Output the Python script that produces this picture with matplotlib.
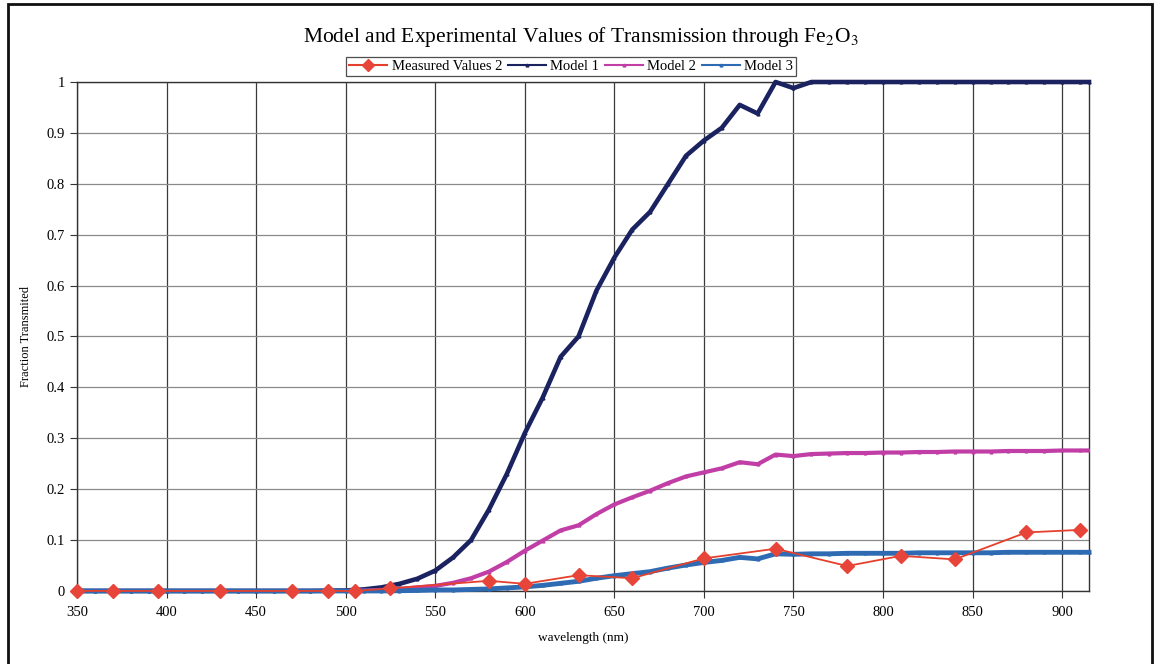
import numpy as np
import matplotlib
matplotlib.use("Agg")
import matplotlib.pyplot as plt
from matplotlib.patches import Rectangle

plt.rcParams['font.family'] = ['Liberation Serif', 'DejaVu Serif']
plt.rcParams['mathtext.fontset'] = 'stix'

# model wavelengths (nm)
wl_model = [350, 360, 370, 380, 390, 400, 410, 420, 430, 440, 450, 460, 470, 480, 490,
            500, 510, 520, 530, 540, 550, 560, 570, 580, 590, 600, 610, 620, 630, 640,
            650, 660, 670, 680, 690, 700, 710, 720, 730, 740, 750, 760, 770, 780, 790,
            800, 810, 820, 830, 840, 850, 860, 870, 880, 890, 900, 910, 915]

model1 = [0, 0, 0, 0, 0, 0, 0, 0, 0, 0, 0, 0, 0, 0, 0.0005,
          0.001, 0.003, 0.007, 0.014, 0.024, 0.04, 0.066, 0.10, 0.16, 0.23, 0.31,
          0.38, 0.46, 0.50, 0.59, 0.655, 0.71, 0.745, 0.80, 0.855, 0.885, 0.91,
          0.955, 0.938, 1.0, 0.988, 1.0, 1.0, 1.0, 1.0, 1.0, 1.0, 1.0, 1.0, 1.0,
          1.0, 1.0, 1.0, 1.0, 1.0, 1.0, 1.0, 1.0]

model2 = [0, 0, 0, 0, 0, 0, 0, 0, 0, 0, 0, 0, 0, 0, 0,
          0, 0.001, 0.002, 0.004, 0.007, 0.010, 0.016, 0.025, 0.038, 0.057, 0.079,
          0.099, 0.119, 0.129, 0.151, 0.170, 0.184, 0.197, 0.212, 0.225, 0.233, 0.241,
          0.253, 0.249, 0.268, 0.265, 0.269, 0.270, 0.271, 0.271, 0.272, 0.272, 0.273,
          0.273, 0.274, 0.274, 0.274, 0.275, 0.275, 0.275, 0.276, 0.276, 0.276]

model3 = [0, 0, 0, 0, 0, 0, 0, 0, 0, 0, 0, 0, 0, 0, 0,
          0, 0, 0, 0.0005, 0.001, 0.002, 0.002, 0.003, 0.004, 0.006, 0.008,
          0.011, 0.015, 0.019, 0.025, 0.030, 0.034, 0.038, 0.045, 0.051, 0.056, 0.060,
          0.066, 0.063, 0.073, 0.072, 0.073, 0.073, 0.074, 0.074, 0.074, 0.074, 0.075,
          0.075, 0.075, 0.075, 0.075, 0.076, 0.076, 0.076, 0.076, 0.076, 0.076]

# measured points
wl_meas = [350, 370, 395, 430, 470, 490, 505, 525, 580, 600, 630, 660, 700, 740,
           780, 810, 840, 880, 910]
meas = [0, 0, 0, 0, 0, 0, 0, 0.005, 0.020, 0.014, 0.031, 0.025, 0.064, 0.083,
        0.049, 0.069, 0.062, 0.115, 0.120]

xticks = [350, 400, 450, 500, 550, 600, 650, 700, 750, 800, 850, 900]
yticks = [0, 0.1, 0.2, 0.3, 0.4, 0.5, 0.6, 0.7, 0.8, 0.9, 1]

fig = plt.figure(figsize=(11.61, 6.64), dpi=100)
ax = fig.add_axes([0.0663, 0.110, 0.8717, 0.7665])

ax.plot(wl_model, model1, color='#1b2260', lw=3.3, marker='^', ms=2,
        label='Model 1', zorder=3, clip_on=False)
ax.plot(wl_model, model2, color='#c03ea6', lw=3.0, marker='^', ms=2,
        label='Model 2', zorder=3)
ax.plot(wl_model, model3, color='#2f6bb3', lw=3.5, marker='^', ms=2,
        label='Model 3', zorder=3, clip_on=False)
ax.plot(wl_meas, meas, color='#e5402c', lw=1.3, marker='D', ms=7,
        mfc='#e8453a', mec='#e8453a', label='Measured Values 2', zorder=4,
        clip_on=False)

ax.set_xlim(350, 915)
ax.set_ylim(0, 1)
ax.set_xticks(xticks)
ax.set_yticks(yticks)
ax.set_yticklabels(['0', '0.1', '0.2', '0.3', '0.4', '0.5', '0.6', '0.7', '0.8', '0.9', '1'])
ax.xaxis.grid(True, color='#3a3a3a', lw=0.9)
ax.yaxis.grid(True, color='#8a8a8a', lw=0.9)
ax.set_axisbelow(True)
ax.tick_params(direction='out', length=5, labelsize=10.5, color='#333333')
ax.tick_params(axis='x', pad=6)
for s in ax.spines.values():
    s.set_color('#333333')
    s.set_linewidth(1.0)

ax.set_xlabel('wavelength (nm)', fontsize=9.5, labelpad=9)
ax.set_ylabel('Fraction Transmited', fontsize=9, labelpad=11)

fig.text(0.5, 0.944, 'Model and Experimental Values of Transmission through Fe$_2$O$_3$',
         ha='center', va='center', fontsize=15.5)

handles, labels = ax.get_legend_handles_labels()
order = [3, 0, 1, 2]
leg = fig.legend([handles[i] for i in order], [labels[i] for i in order],
                 loc='center', bbox_to_anchor=(0.492, 0.9), ncol=4, fontsize=10.5,
                 frameon=True, fancybox=False, edgecolor='#222222',
                 handlelength=2.6, handletextpad=0.3, columnspacing=0.4,
                 borderpad=0.2, borderaxespad=0)
leg.get_frame().set_linewidth(0.9)
for h in leg.legend_handles:
    h.set_linewidth(1.5)
    if h.get_marker() == 'D':
        h.set_markersize(6)

fig.add_artist(Rectangle((0.0069, -0.05), 0.9855, 1.044, transform=fig.transFigure,
                         fill=False, edgecolor='#111111', lw=2))

fig.savefig('out.png', dpi=100)
